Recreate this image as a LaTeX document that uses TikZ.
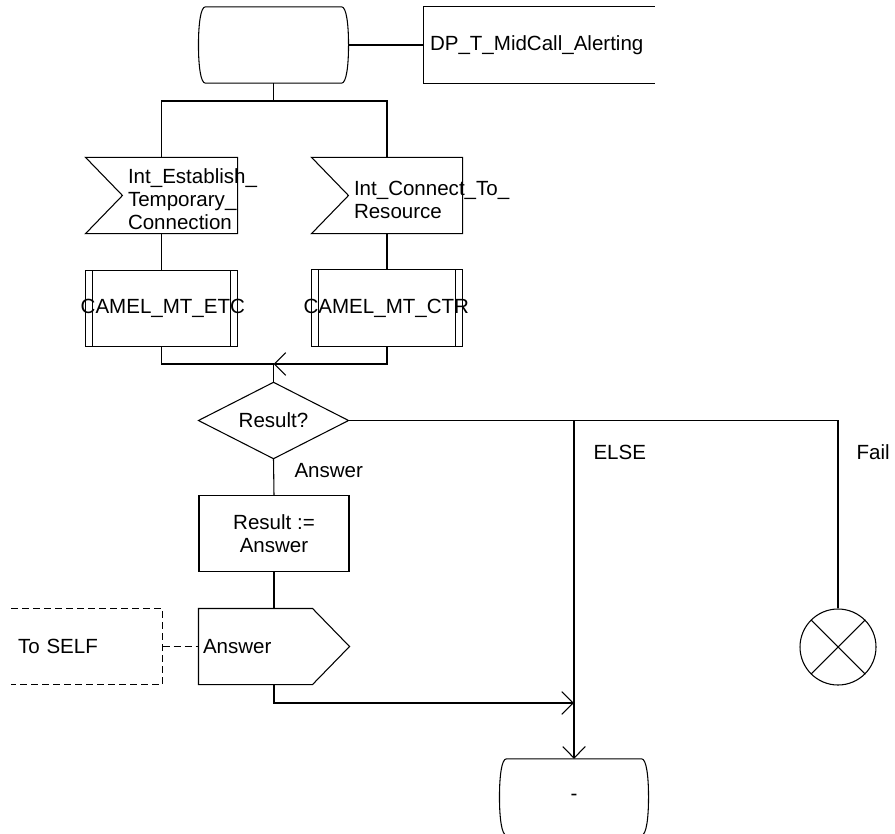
\documentclass[tikz,border=0pt]{standalone}
\usepackage{fontspec}
\setmainfont{Liberation Sans}
\usetikzlibrary{arrows.meta}
\newcommand\sdlstate[1]{%
  \draw ([xshift=5.25pt]#1.north west) -- ([xshift=-5.25pt]#1.north east)
    .. controls ([xshift=-1.5pt]#1.north east) and ([yshift=15pt]#1.east) .. (#1.east)
    .. controls ([yshift=-15pt]#1.east) and ([xshift=-1.5pt]#1.south east) .. ([xshift=-5.25pt]#1.south east)
    -- ([xshift=5.25pt]#1.south west)
    .. controls ([xshift=1.5pt]#1.south west) and ([yshift=-15pt]#1.west) .. (#1.west)
    .. controls ([yshift=15pt]#1.west) and ([xshift=1.5pt]#1.north west) .. cycle;}
\newcommand\sdlinput[1]{%
  \draw (#1.north west) -- (#1.north east) -- (#1.south east) -- (#1.south west)
    -- ([xshift=27.75pt]#1.west) -- cycle;}
\newcommand\sdloutput[1]{%
  \draw (#1.north west) -- ([xshift=-27.75pt]#1.north east) -- (#1.east)
    -- ([xshift=-27.75pt]#1.south east) -- (#1.south west) -- cycle;}
\newcommand\sdlproc[1]{%
  \draw (#1.north west) rectangle (#1.south east);
  \draw ([xshift=5.25pt]#1.north west) -- ([xshift=5.25pt]#1.south west);
  \draw ([xshift=-5.25pt]#1.north east) -- ([xshift=-5.25pt]#1.south east);}
\newcommand\sdldecision[1]{%
  \draw (#1.north) -- (#1.east) -- (#1.south) -- (#1.west) -- cycle;}
\begin{document}
\begin{tikzpicture}[x=0.75pt,y=-0.75pt, line width=0.8pt,
  font=\fontsize{15.4pt}{17.3pt}\selectfont,
  sym/.style={draw=none, inner sep=0pt, minimum width=112.5pt, minimum height=56.5pt},
  lbl/.style={anchor=west, inner sep=0pt, align=left},
  ctext/.style={inner sep=0pt, align=center},
  arr/.style={-{Straight Barb[length=8.6pt,width=17pt]}}]
\useasboundingbox (0,0) rectangle (895,834);

% nodes
\node[sym, minimum width=111.75pt] (st) at (273.5,45) {};
\node[draw=none, inner xsep=4.5pt, inner ysep=0pt, text width=163.5pt, align=left,
      minimum height=57pt] (dp) at (539,45) {DP\_T\_MidCall\_Alerting};
\node[sym, minimum width=113.25pt] (in1) at (161.5,195.5) {};
\node[sym] (in2) at (387,195.5) {};
\node[sym, minimum width=113.25pt] (pr1) at (161.5,308.5) {};
\node[sym] (pr2) at (387,308) {};
\node[sym, minimum width=111.75pt] (dec) at (273.5,420.5) {};
\node[sym, draw] (res) at (274,533.5) {};
\node[draw=none, inner xsep=3pt, inner ysep=0pt, text width=106.5pt, align=left,
      minimum height=56.25pt] (out) at (274,646.5) {Answer};
\node[draw=none, inner xsep=4.5pt, inner ysep=0pt, text width=103.5pt, align=left,
      minimum height=56.25pt] (cm) at (87,646.5) {To SELF};
\node[sym, minimum width=111pt] (end) at (574,797) {};
\node[draw, circle, minimum size=57pt, inner sep=0pt] (fail) at (838,647) {};

% texts inside the symbols
\node[lbl] (t1) at ([xshift=31.5pt,yshift=-3pt]in1.west) {Int\_Establish\_\\Temporary\_\\Connection};
\node[lbl] (t2) at ([xshift=31.5pt,yshift=-3pt]in2.west) {Int\_Connect\_To\_\\Resource};
\node[ctext] (tp1) at ([xshift=1pt]pr1.center) {CAMEL\_MT\_ETC};
\node[ctext] (tp2) at ([xshift=-0.5pt]pr2.center) {CAMEL\_MT\_CTR};
\node[ctext] (td) at (dec.center) {Result?};
\node[ctext] (tr) at (res.center) {Result :=\\Answer};
\node[ctext] (te) at (end.center) {-};

% outlines
\sdlstate{st}
\draw (dp.north east) -- (dp.north west) -- (dp.south west) -- (dp.south east);
\sdlinput{in1}
\sdlinput{in2}
\sdlproc{pr1}
\sdlproc{pr2}
\sdldecision{dec}
\sdloutput{out}
\draw[dash pattern=on 5.25pt off 3pt] (cm.north west) -- (cm.north east) -- (cm.south east) -- (cm.south west);
\sdlstate{end}
\draw (fail.north west) -- (fail.south east);
\draw (fail.north east) -- (fail.south west);

% connectors
\coordinate (split) at (273.5,101);
\coordinate (merge) at (273.5,364);
\coordinate (ja) at (574,703);
\draw (st.east) -- (dp.west);
\draw (st.south) -- (split);
\draw (in1.north) |- (split) -| (in2.north);
\draw (in1.south) -- (pr1.north);
\draw (in2.south) -- (pr2.north);
\draw (pr1.south) |- (merge);
\draw[arr] (pr2.south) |- (merge);
\draw (merge) -- (dec.north);
\draw (dec.south) -- (res.north);
\draw (res.south) -- (out.north);
\draw[dash pattern=on 5.25pt off 3pt] (cm.east) -- (out.west);
\draw[arr] (out.south) |- (ja);
\draw[arr] (dec.east) -| (end.north);
\draw (dec.east) -| (fail.north);

% branch labels
\node[lbl] (lans) at (294,471) {Answer};
\node[lbl] (lelse) at (593,452) {ELSE};
\node[lbl] (lfail) at (856,452) {Fail};
\end{tikzpicture}
\end{document}
